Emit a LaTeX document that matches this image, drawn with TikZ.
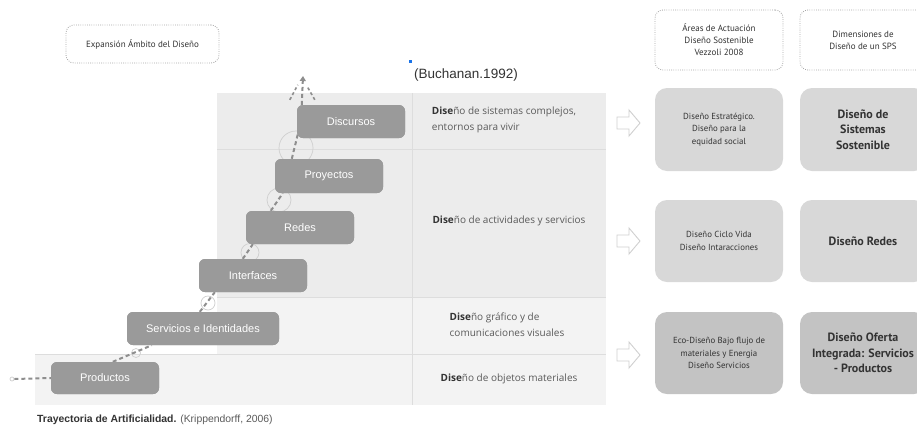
\documentclass[tikz,border=0pt]{standalone}
\usepackage{fontspec}
\setmainfont{Liberation Sans}
\newfontfamily\tabfont{Open Sans}
\newfontfamily\myrfont{PT Sans}
\usetikzlibrary{arrows.meta,calc}
\definecolor{boxgray}{HTML}{9A9A9A}
\definecolor{topbg}{HTML}{ECECEC}
\definecolor{lowbg}{HTML}{F3F3F3}
\definecolor{gridc}{HTML}{DDDDDD}
\definecolor{trajc}{HTML}{8E8E8E}
\definecolor{circc}{HTML}{CFCFCF}
\definecolor{lightbox}{HTML}{D8D8D8}
\definecolor{darkbox}{HTML}{C3C3C3}
\definecolor{dotc}{HTML}{A5A5A5}
\definecolor{txtdark}{HTML}{333333}
\definecolor{txtmid}{HTML}{5A5A5A}
\definecolor{arrc}{HTML}{D0D0D0}
\definecolor{bluedot}{HTML}{1A73E8}
\tikzset{
  stepbox/.style={rectangle, rounded corners=6pt, fill=boxgray, text=white, inner sep=0pt,
    minimum height=33pt, font=\fontsize{11}{13}\selectfont},
  traj/.style={draw=trajc, line width=2pt, dash pattern=on 4pt off 3pt},
  fan/.style={draw=trajc, line width=1.6pt, dash pattern=on 3pt off 2.5pt},
  ring/.style={circle, draw=circc, line width=0.7pt, inner sep=0pt},
  celltext/.style={align=left, text=txtmid, font=\tabfont\fontsize{10}{16}\selectfont},
  dotbox/.style={rectangle, rounded corners=8pt, draw=dotc, line width=0.8pt,
    dash pattern=on 0.8pt off 1.4pt, inner sep=0pt, align=center, text=txtdark,
    font=\myrfont\fontsize{9}{12}\selectfont},
  areabox/.style={rectangle, rounded corners=12pt, inner sep=0pt, align=center, text=txtdark,
    minimum width=128pt, minimum height=82pt, font=\myrfont\fontsize{8.8}{12.4}\selectfont},
  dimbox/.style={rectangle, rounded corners=12pt, inner sep=0pt, align=center, text=txtdark,
    minimum width=126pt, minimum height=82pt, font=\myrfont\bfseries\fontsize{12}{15.5}\selectfont},
  hollow/.style={draw=arrc, fill=white, line width=0.9pt, line join=miter}
}
\newcommand{\dse}{\textcolor{txtdark}{\textbf{Dise}}}
\begin{document}
\begin{tikzpicture}[x=1pt,y=-1pt]
\useasboundingbox (0,0) rectangle (917,429);
\clip (0,0) rectangle (917,429);
\fill[white] (0,0) rectangle (917,429);

% table backgrounds
\fill[topbg] (217,93) rectangle (606,297);
\fill[lowbg] (217,297) rectangle (606,354);
\fill[lowbg] (35,354) rectangle (606,405);
\draw[gridc, line width=0.8pt] (217,149) -- (606,149);
\draw[gridc, line width=0.8pt] (217,297) -- (606,297);
\draw[gridc, line width=0.8pt] (35,354) -- (606,354);
\draw[gridc, line width=0.8pt] (412,93) -- (412,405);

% rings
\node[ring, minimum size=34pt] (r5) at (296,148) {};
\node[ring, minimum size=24pt] (r4) at (279,200) {};
\node[ring, minimum size=18pt] (r3) at (250,252.5) {};
\node[ring, minimum size=14pt] (r2) at (208,303) {};
\node[ring, minimum size=9pt] (r1) at (136,353) {};
\node[ring, minimum size=4pt] (r0) at (12,379) {};

% step boxes (placed first for anchors, drawn over lines later)
\path
  node[stepbox, minimum width=108pt, minimum height=32pt] (prod) at (105,378) {Productos}
  node[stepbox, minimum width=152pt] (serv) at (203,328.5) {Servicios e Identidades}
  node[stepbox, minimum width=108pt] (intf) at (253,275.5) {Interfaces}
  node[stepbox, minimum width=108pt] (redes) at (300,227.5) {Redes}
  node[stepbox, minimum width=108pt, minimum height=34pt] (proy) at (329,176) {Proyectos}
  node[stepbox, minimum width=108pt] (disc) at (351,121.5) {Discursos};
\coordinate (tip) at (303,76);

% trajectory (dashed) behind boxes
\draw[traj] (r0.east) -- (prod.west);
\draw[traj] ($(prod.north west)+(62,0)$) -- ($(serv.south west)+(25,0)$);
\draw[traj] ($(serv.north west)+(73,0)$) -- ($(intf.south west)+(16,0)$);
\draw[traj] ($(intf.north west)+(44,0)$) -- ($(redes.south west)+(7,0)$);
\draw[traj] ($(redes.north west)+(25,0)$) -- ($(proy.south west)+(8,0)$);
\draw[traj] ($(proy.north west)+(17,0)$) -- ($(disc.south west)+(1,-4)$);
\draw[traj, -{Triangle[width=6pt,length=5pt]}] ($(disc.north west)+(5,0)$) -- (tip);
\draw[fan] ($(disc.north west)+(-7,-5)$) -- ($(disc.north west)+(1,-20)$);
\draw[fan] ($(disc.north west)+(18,-5)$) -- ($(disc.north west)+(10,-19)$);

% redraw boxes on top
\path
  node[stepbox, minimum width=108pt, minimum height=32pt] at (prod) {Productos}
  node[stepbox, minimum width=152pt] at (serv) {Servicios e Identidades}
  node[stepbox, minimum width=108pt] at (intf) {Interfaces}
  node[stepbox, minimum width=108pt] at (redes) {Redes}
  node[stepbox, minimum width=108pt, minimum height=34pt] at (proy) {Proyectos}
  node[stepbox, minimum width=108pt] at (disc) {Discursos};

% table texts
\node[celltext] (t1) at (504,120) {\dse ño de sistemas complejos,\\entornos para vivir};
\node[celltext] (t2) at (509,221) {\dse ño de actividades y servicios};
\node[celltext] (t3) at (507,325) {\dse ño gráfico y de\\comunicaciones visuales};
\node[celltext] (t4) at (509,379) {\dse ño de objetos materiales};

% titles
\node[anchor=west, text=txtdark, font=\fontsize{13.5}{16}\selectfont, inner sep=0pt] (buch) at (414,75) {(Buchanan.1992)};
\node[fill=bluedot, minimum size=3pt, inner sep=0pt] (bdot) at (410,61) {};
\node[anchor=west, text=txtmid, font=\fontsize{10.4}{12}\selectfont, inner sep=0pt] (cap) at (37,420)
  {\textcolor{txtdark}{\textbf{Trayectoria de Artificialidad.}} (Krippendorff, 2006)};
\node[dotbox, minimum width=153pt, minimum height=38pt] (exp) at (142.5,44) {Expansión Ámbito del Diseño};

% hollow arrows
\foreach \c in {123, 241, 355}{
  \draw[hollow] (617,\c-6) -- (629,\c-6) -- (629,\c-13) -- (640,\c) -- (629,\c+13) -- (629,\c+6) -- (617,\c+6) -- cycle;
}

% right columns
\node[dotbox, minimum width=128pt, minimum height=60pt] (h1) at (719,40) {Áreas de Actuación\\Diseño Sostenible\\Vezzoli 2008};
\node[dotbox, minimum width=126pt, minimum height=60pt] (h2) at (863,40) {Dimensiones de\\Diseño de un SPS};

\node[areabox, fill=lightbox, minimum height=83pt] (a1) at (719,129.5) {Diseño Estratégico.\\Diseño para la\\equidad social};
\node[areabox, fill=lightbox] (a2) at (719,241) {Diseño Ciclo Vida\\Diseño Intaracciones};
\node[areabox, fill=darkbox] (a3) at (719,353) {Eco-Diseño Bajo flujo de\\materiales y Energia\\Diseño Servicios};

\node[dimbox, fill=lightbox, minimum height=83pt] (d1) at (863,129.5) {Diseño de\\Sistemas\\Sostenible};
\node[dimbox, fill=lightbox] (d2) at (863,241) {Diseño Redes};
\node[dimbox, fill=darkbox] (d3) at (863,353) {Diseño Oferta\\Integrada: Servicios\\- Productos};
\end{tikzpicture}
\end{document}
